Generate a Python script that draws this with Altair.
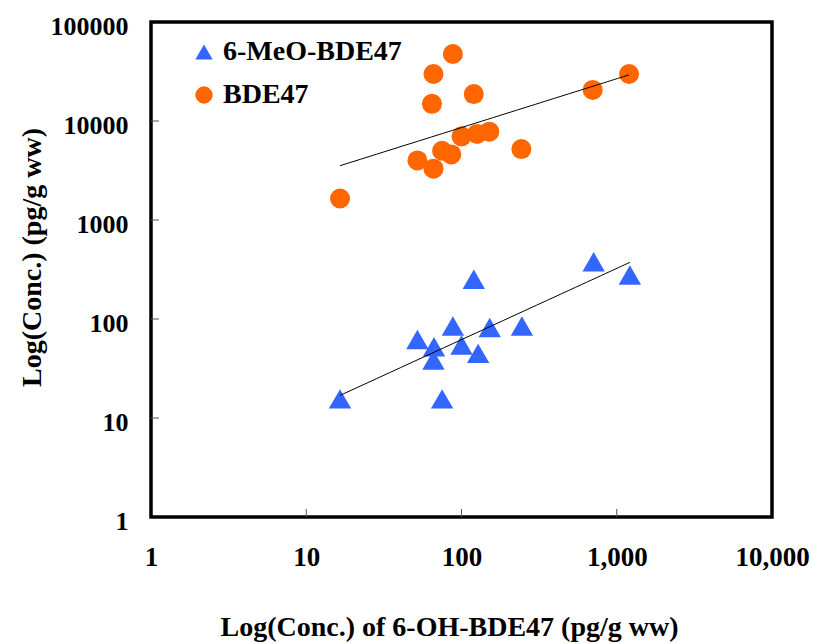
import altair as alt
import pandas as pd

# BDE47 (orange circles)
bde47_x = [16.5, 52, 66, 75, 86, 100, 126, 151, 243, 64.5, 66, 88, 120, 700, 1200]
bde47_y = [1650, 4000, 3300, 5000, 4600, 7000, 7400, 7800, 5200, 14900, 29800, 47500, 18700, 20600, 29800]
# 6-MeO-BDE47 (blue triangles)
meo_x = [16.5, 75, 52, 66.5, 66, 88, 100, 128, 152, 245, 120, 710, 1215]
meo_y = [15.6, 15.6, 62, 52.5, 38.5, 85, 54.6, 45, 82, 85, 252, 379, 278]

series_names = ["6-MeO-BDE47", "BDE47"]
series_colors = ["#3366FF", "#FF6600"]
series_shapes = ["triangle-up", "circle"]

x_ticks = [1, 10, 100, 1000, 10000]
y_ticks = [1, 10, 100, 1000, 10000, 100000]

df = pd.DataFrame({
    "x": meo_x + bde47_x,
    "y": meo_y + bde47_y,
    "series": ["6-MeO-BDE47"] * len(meo_x) + ["BDE47"] * len(bde47_x),
})

W, H = 621, 495
FONT = "Liberation Serif"

xscale = alt.Scale(type="log", domain=[1, 10000], nice=False)
yscale = alt.Scale(type="log", domain=[1, 100000], nice=False)

xaxis = alt.Axis(values=x_ticks, format=",", title="Log(Conc.) of 6-OH-BDE47 (pg/g ww)",
                 ticks=False, domain=False, grid=False,
                 labelFont=FONT, labelFontSize=27, labelFontWeight="bold", labelColor="black",
                 labelBaseline="alphabetic", labelPadding=48, labelFlush=False, labelOverlap=False,
                 titleFont=FONT, titleFontSize=28, titleFontWeight="bold", titleColor="black",
                 titleX=298, titleY=118, titleBaseline="alphabetic", titleAlign="center")
yaxis = alt.Axis(values=y_ticks, format="d", title="Log(Conc.) (pg/g ww)",
                 ticks=False, domain=False, grid=False,
                 labelFont=FONT, labelFontSize=26, labelFontWeight="bold", labelColor="black",
                 labelBaseline="alphabetic", labelOffset=12, labelPadding=23, labelFlush=False,
                 labelOverlap=False,
                 titleFont=FONT, titleFontSize=28, titleFontWeight="bold", titleColor="black",
                 titleX=-111, titleY=235, titleAngle=270, titleBaseline="alphabetic", titleAlign="center")

points = alt.Chart(df).mark_point(filled=True, opacity=1).encode(
    x=alt.X("x:Q", scale=xscale, axis=xaxis),
    y=alt.Y("y:Q", scale=yscale, axis=yaxis),
    color=alt.Color("series:N", scale=alt.Scale(domain=series_names, range=series_colors),
                    legend=alt.Legend(title=None, orient="none", legendX=39, legendY=16,
                                      labelFont=FONT, labelFontSize=28, labelFontWeight="bold",
                                      labelColor="black", labelLimit=400, symbolSize=300,
                                      symbolOpacity=1, labelOffset=5, rowPadding=15, padding=0)),
    shape=alt.Shape("series:N", scale=alt.Scale(domain=series_names, range=series_shapes)),
    size=alt.condition(alt.datum.series == "BDE47", alt.value(400), alt.value(500)),
)

trend = alt.Chart(df).transform_regression(
    "x", "y", method="pow", groupby=["series"]
).mark_line(color="black", strokeWidth=1).encode(
    x=alt.X("x:Q", scale=xscale),
    y=alt.Y("y:Q", scale=yscale),
    detail="series:N",
)

xt = pd.DataFrame({"v": x_ticks[1:-1]})
yt = pd.DataFrame({"v": y_ticks[1:-1]})
xtick_marks = alt.Chart(xt).mark_rule(color="#555555", strokeWidth=1).encode(
    x=alt.X("v:Q", scale=xscale), y=alt.value(H), y2=alt.value(H - 8))
ytick_marks = alt.Chart(yt).mark_rule(color="#555555", strokeWidth=1).encode(
    y=alt.Y("v:Q", scale=yscale), x=alt.value(0), x2=alt.value(8))

chart = alt.layer(points, trend, xtick_marks, ytick_marks).properties(
    width=W, height=H,
    autosize=alt.AutoSizeParams(type="none"),
    padding={"left": 151, "top": 22, "right": 41, "bottom": 127},
).configure(font=FONT).configure_view(stroke="black", strokeWidth=3.5)

chart.save("out.html", embed_options={"renderer": "svg", "actions": False})
